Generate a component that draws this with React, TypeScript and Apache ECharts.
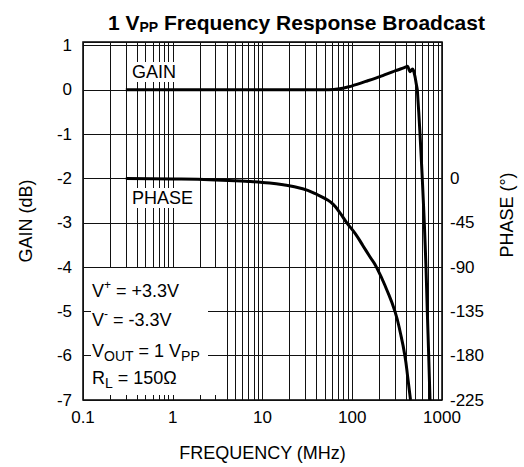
import React, { useEffect, useRef } from 'react';
import * as echarts from 'echarts';

// Frequency response: gain (dB) vs frequency (MHz)
const gainFreq = [0.3, 1, 3, 10, 30, 50, 62, 75, 87, 100, 146, 204, 300, 380, 415, 430, 440, 455, 467, 480, 500, 515, 531, 569, 603, 635, 663, 686, 711, 735];
const gainDb = [0, 0, 0, 0, 0, 0, 0.01, 0.03, 0.06, 0.09, 0.2, 0.3, 0.43, 0.5, 0.53, 0.45, 0.41, 0.44, 0.47, 0.44, 0.3, 0.15, 0, -1, -2, -3, -4, -5, -6, -7];

// Phase (degrees) vs frequency (MHz)
const phaseFreq = [0.3, 1, 3, 7, 10, 17, 28, 40, 50, 61, 73, 87, 108, 130, 156, 186, 241, 299, 345, 386, 416, 446];
const phaseDeg = [0, -0.5, -1.5, -3, -4, -6.3, -10.5, -16, -20.5, -26, -35, -45, -56, -67.5, -79, -90, -112.5, -135, -157.5, -180, -202.5, -225];

// Axis ranges / ticks
const freqMin = 0.1;
const freqMax = 1000;
const minorFreqs = [0.2, 0.3, 0.4, 0.5, 0.6, 0.7, 0.8, 0.9, 2, 3, 4, 5, 6, 7, 8, 9, 20, 30, 40, 50, 60, 70, 80, 90, 200, 300, 400, 500, 600, 700, 800, 900];
const gainMin = -7;
const gainTop = 1.08;
const gainLabelMax = 1;
const phaseMin = -225;
const phaseStep = 45;
const phaseLabelMax = 0;

const FONT = 'Liberation Sans, Arial, Helvetica, sans-serif';

export default function App() {
  const ref = useRef<HTMLDivElement>(null);

  useEffect(() => {
    if (!ref.current) return;
    const chart = echarts.init(ref.current, undefined, { renderer: 'svg' });
    const phaseTop = phaseStep * (gainTop + 2);

    const noteRich = {
      n: { fontFamily: FONT, fontSize: 18, lineHeight: 24, color: '#000' },
      p: { fontFamily: FONT, fontSize: 12, lineHeight: 12, verticalAlign: 'top', color: '#000' },
      b: { fontFamily: FONT, fontSize: 14, lineHeight: 14, verticalAlign: 'bottom', color: '#000' },
    };

    const option: any = {
      animation: false,
      backgroundColor: '#fff',
      title: {
        text: '{a|1 V}{s|PP}{a| Frequency Response Broadcast}',
        left: 103,
        top: 5,
        textStyle: {
          rich: {
            a: { fontFamily: FONT, fontWeight: 'bold', fontSize: 21, lineHeight: 24, color: '#000' },
            s: { fontFamily: FONT, fontWeight: 'bold', fontSize: 14, lineHeight: 14, verticalAlign: 'bottom', color: '#000' },
          },
        },
      },
      grid: {
        left: 83,
        right: 82,
        top: 42,
        bottom: 67,
        show: true,
        borderColor: '#000',
        borderWidth: 1.5,
        outerBoundsMode: 'none',
        containLabel: false,
      },
      xAxis: {
        type: 'log',
        logBase: 10,
        min: freqMin,
        max: freqMax,
        name: 'FREQUENCY (MHz)',
        nameLocation: 'middle',
        nameGap: 44,
        nameTextStyle: { fontFamily: FONT, fontSize: 18, color: '#000' },
        axisLine: { show: false },
        axisTick: { show: false },
        axisLabel: {
          fontFamily: FONT,
          fontSize: 17,
          color: '#000',
          margin: 9,
          formatter: (v: number) => String(Number(v.toPrecision(3))),
        },
        splitLine: { show: true, lineStyle: { color: '#111', width: 1 } },
        z: 0,
      },
      yAxis: [
        {
          type: 'value',
          min: gainMin,
          max: gainTop,
          interval: 1,
          name: 'GAIN (dB)',
          nameLocation: 'middle',
          nameGap: 48,
          nameTextStyle: { fontFamily: FONT, fontSize: 18, color: '#000' },
          axisLine: { show: false },
          axisTick: { show: false },
          axisLabel: {
            fontFamily: FONT,
            fontSize: 17,
            color: '#000',
            margin: 11,
            formatter: (v: number) =>
              Math.abs(v - Math.round(v)) < 1e-6 && v <= gainLabelMax ? String(Math.round(v)) : '',
          },
          splitLine: { show: true, lineStyle: { color: '#111', width: 1 } },
          z: 3,
        },
        {
          type: 'value',
          position: 'right',
          min: phaseMin,
          max: phaseTop,
          interval: phaseStep,
          name: 'PHASE (°)',
          nameLocation: 'middle',
          nameGap: 56,
          nameTextStyle: { fontFamily: FONT, fontSize: 18, color: '#000', padding: [0, 0, 0, 12] },
          axisLine: { show: false },
          axisTick: { show: false },
          axisLabel: {
            fontFamily: FONT,
            fontSize: 17,
            color: '#000',
            margin: 8,
            formatter: (v: number) =>
              v <= phaseLabelMax && Math.abs(v / phaseStep - Math.round(v / phaseStep)) < 1e-6 ? String(Math.round(v)) : '',
          },
          splitLine: { show: false },
          z: 3,
        },
      ],
      graphic: [
        { type: 'rect', silent: true, z: 2, shape: { x: 84, y: 268, width: 137, height: 127 }, style: { fill: '#fff' } },
        { type: 'rect', silent: true, z: 4, shape: { x: 91, y: 274, width: 117, height: 120 }, style: { fill: '#fff' } },
        { type: 'text', silent: true, z: 5, x: 92, y: 291, style: { text: '{n|V}{p|+}{n| = +3.3V}', rich: noteRich, verticalAlign: 'middle' } },
        { type: 'text', silent: true, z: 5, x: 92, y: 320, style: { text: '{n|V}{p|-}{n| = -3.3V}', rich: noteRich, verticalAlign: 'middle' } },
        { type: 'text', silent: true, z: 5, x: 92, y: 351, style: { text: '{n|V}{b|OUT}{n| = 1 V}{b|PP}', rich: noteRich, verticalAlign: 'middle' } },
        { type: 'text', silent: true, z: 5, x: 92, y: 378, style: { text: '{n|R}{b|L}{n| = 150Ω}', rich: noteRich, verticalAlign: 'middle' } },
        {
          type: 'text', silent: true, z: 5, x: 130, y: 72,
          style: { text: 'GAIN', fontFamily: FONT, fontSize: 18, fill: '#000', backgroundColor: '#fff', padding: [1, 2], verticalAlign: 'middle' },
        },
        {
          type: 'text', silent: true, z: 5, x: 130, y: 198,
          style: { text: 'PHASE', fontFamily: FONT, fontSize: 18, fill: '#000', backgroundColor: '#fff', padding: [1, 2], verticalAlign: 'middle' },
        },
      ],
      series: [
        {
          type: 'line',
          name: 'minor grid',
          data: [],
          silent: true,
          z: 1,
          markLine: {
            silent: true,
            z: 1,
            symbol: ['none', 'none'],
            label: { show: false },
            emphasis: { disabled: true },
            lineStyle: { color: '#111', width: 1, type: 'solid' },
            data: minorFreqs.map((f) => ({ xAxis: f })),
          },
        },
        {
          type: 'line',
          name: 'GAIN',
          yAxisIndex: 0,
          data: gainFreq.map((f, i) => [f, gainDb[i]]),
          showSymbol: false,
          symbol: 'none',
          smooth: 0.2,
          lineStyle: { color: '#000', width: 3 },
          z: 6,
          silent: true,
        },
        {
          type: 'line',
          name: 'PHASE',
          yAxisIndex: 1,
          data: phaseFreq.map((f, i) => [f, phaseDeg[i]]),
          showSymbol: false,
          symbol: 'none',
          smooth: 0.5,
          lineStyle: { color: '#000', width: 3 },
          z: 6,
          silent: true,
        },
      ],
    };

    chart.setOption(option);
    return () => chart.dispose();
  }, []);

  return (
    <div
      ref={ref}
      style={{ position: 'fixed', left: 0, top: 0, width: 524, height: 467, background: '#fff' }}
    />
  );
}
